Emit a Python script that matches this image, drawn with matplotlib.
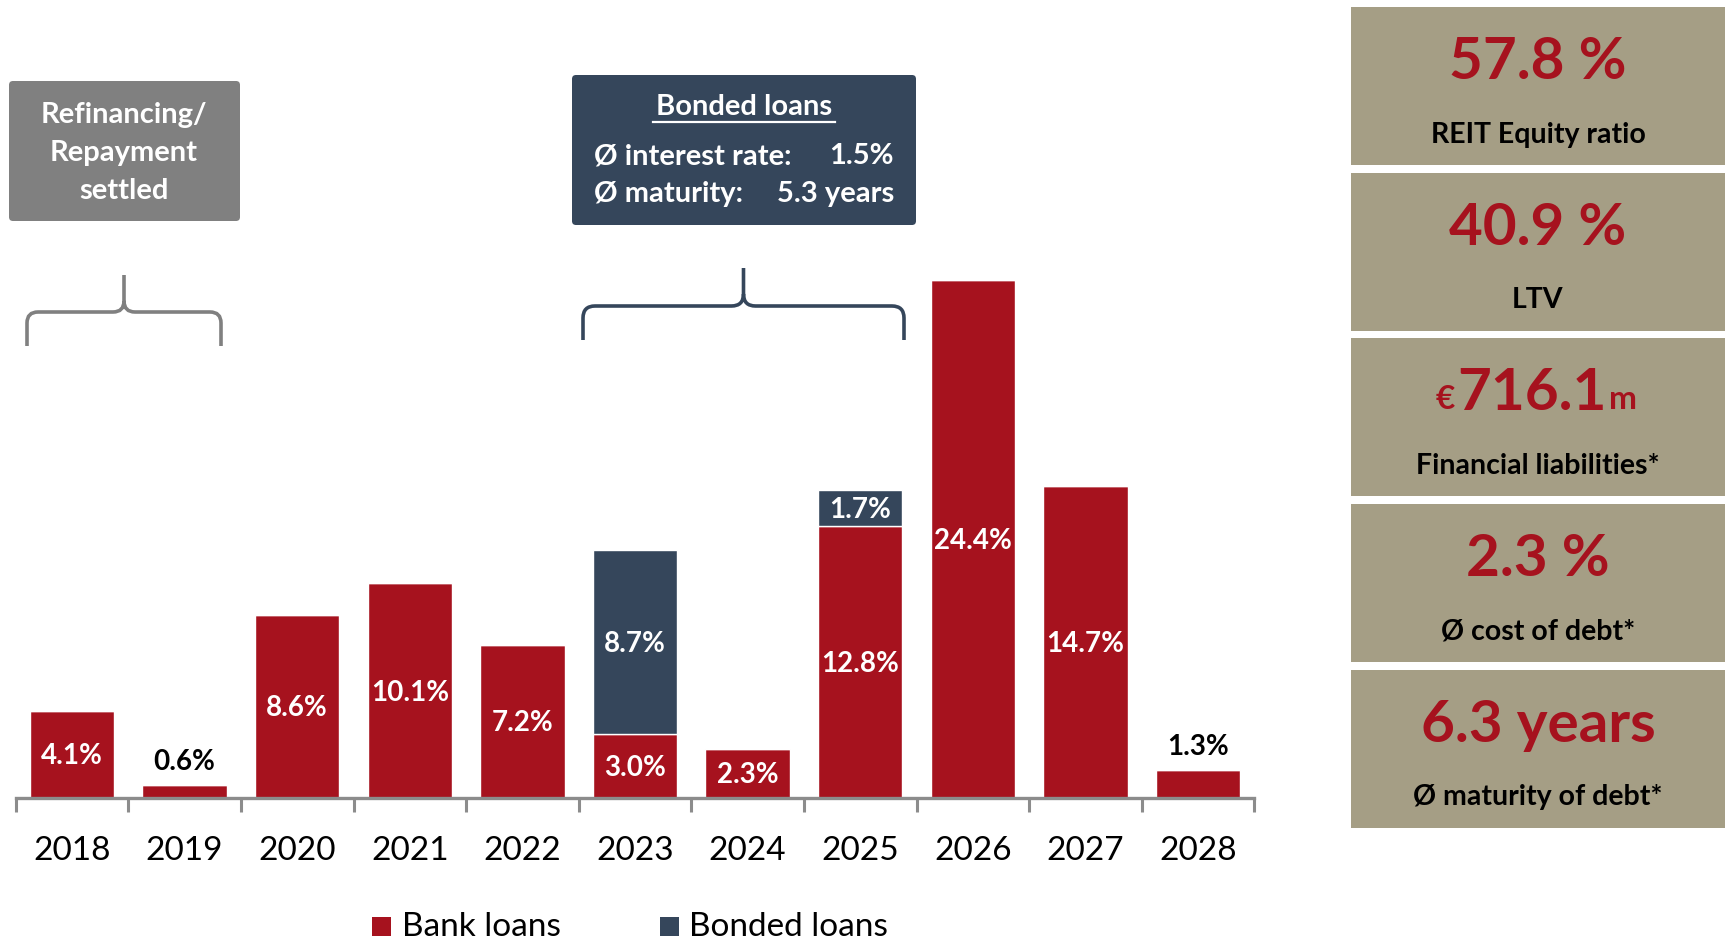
import numpy as np
import matplotlib.pyplot as plt
from matplotlib.patches import FancyBboxPatch, Rectangle, PathPatch
from matplotlib.path import Path

# maturity profile, share of financial liabilities in %
years = ['2018', '2019', '2020', '2021', '2022', '2023', '2024', '2025', '2026', '2027', '2028']
bank_loans = [4.1, 0.6, 8.6, 10.1, 7.2, 3.0, 2.3, 12.8, 24.4, 14.7, 1.3]
bonded_loans = [0, 0, 0, 0, 0, 8.7, 0, 1.7, 0, 0, 0]

# key figures on the right
kpi_values = ['57.8 %', '40.9 %', '716.1', '2.3 %', '6.3 years']
kpi_prefix = ['', '', '€', '', '']
kpi_suffix = ['', '', 'm', '', '']
kpi_labels = ['REIT Equity ratio', 'LTV', 'Financial liabilities*',
              'Ø cost of debt*', 'Ø maturity of debt*']

RED = '#A6121E'
NAVY = '#35465B'
GREY = '#808080'
AXIS_GREY = '#8C8C8C'
PANEL = '#A59E85'
FONT = ['Lato', 'DejaVu Sans']

plt.rcParams['font.family'] = FONT

W, H = 1725, 948
fig = plt.figure(figsize=(W / 100, H / 100), dpi=100)

# overlay in pixel units (y pointing down) for boxes, braces, panels, legend
ov = fig.add_axes([0, 0, 1, 1], zorder=0)
ov.set_xlim(0, W)
ov.set_ylim(H, 0)
ov.axis('off')

# bar chart
x0_px, x1_px, base_px = 15.7, 1254.3, 797.5
px_per_pct = 21.19
ax = fig.add_axes([x0_px / W, (H - base_px) / H, (x1_px - x0_px) / W, base_px / H], zorder=1)
ax.patch.set_alpha(0)

x = np.arange(len(years))
bw = 0.75
b1 = ax.bar(x, bank_loans, bw, color=RED, edgecolor='white', linewidth=1)
b2 = ax.bar(x, bonded_loans, bw, bottom=bank_loans, color=NAVY, edgecolor='white', linewidth=1)

ax.set_xlim(-0.5, len(years) - 0.5)
ax.set_ylim(0, base_px / px_per_pct)
for s in ['top', 'right', 'left']:
    ax.spines[s].set_visible(False)
ax.spines['bottom'].set_color(AXIS_GREY)
ax.spines['bottom'].set_linewidth(2.4)
ax.set_yticks([])
ax.set_xticks(x)
ax.set_xticklabels([])
ax.tick_params(axis='x', which='major', length=0)
ax.set_xticks(np.arange(-0.5, len(years)), minor=True)
ax.tick_params(axis='x', which='minor', length=10, width=2.2, color=AXIS_GREY, direction='out')

for i, yr in enumerate(years):
    ax.annotate(yr, xy=(i, 0), xycoords=('data', 'axes fraction'),
                xytext=(0, -38.5), textcoords='offset points',
                ha='center', va='center', fontsize=24, color='black')

# value labels
lab_kw = dict(ha='center', va='center', fontsize=20, fontweight='bold')
for i in range(len(years)):
    v = bank_loans[i]
    if v >= 2:
        ax.annotate(f'{v:.1f}%', xy=(i, v / 2), xytext=(0, -1.5), textcoords='offset points',
                    color='white', **lab_kw)
    else:
        ax.annotate(f'{v:.1f}%', xy=(i, v), xytext=(0, 16.5), textcoords='offset points',
                    color='black', **lab_kw)
    b = bonded_loans[i]
    if b > 0:
        ax.annotate(f'{b:.1f}%', xy=(i, v + b / 2), xytext=(0, -1.5), textcoords='offset points',
                    color='white', **lab_kw)


def brace(x_left, x_right, y_end, y_mid, y_tip, r, color):
    xc = (x_left + x_right) / 2
    verts = [(x_left, y_end), (x_left, y_mid + r), (x_left, y_mid), (x_left + r, y_mid),
             (xc - r, y_mid), (xc, y_mid), (xc, y_mid - r), (xc, y_tip),
             (xc, y_mid - r), (xc, y_mid), (xc + r, y_mid),
             (x_right - r, y_mid), (x_right, y_mid), (x_right, y_mid + r), (x_right, y_end)]
    codes = [Path.MOVETO, Path.LINETO, Path.CURVE3, Path.CURVE3,
             Path.LINETO, Path.CURVE3, Path.CURVE3, Path.LINETO,
             Path.MOVETO, Path.CURVE3, Path.CURVE3,
             Path.LINETO, Path.CURVE3, Path.CURVE3, Path.LINETO]
    ov.add_patch(PathPatch(Path(verts, codes), fill=False, edgecolor=color,
                           linewidth=2.6, capstyle='butt', joinstyle='round'))


box_kw = dict(va='center', fontsize=21, fontweight='bold', color='white')

# left annotation
ov.add_patch(FancyBboxPatch((9, 81), 231, 140, boxstyle='round,pad=0,rounding_size=4',
                            facecolor=GREY, edgecolor='none'))
for txt, yy in zip(['Refinancing/', 'Repayment', 'settled'], [115, 153, 191]):
    ov.text(124, yy, txt, ha='center', **box_kw)
brace(27, 221, 346, 312, 275, 11, GREY)

# bonded loans annotation
ov.add_patch(FancyBboxPatch((572, 75), 344, 150, boxstyle='round,pad=0,rounding_size=4',
                            facecolor=NAVY, edgecolor='none'))
ov.text(744, 107, 'Bonded loans', ha='center', **box_kw)
ov.plot([653, 835], [122, 122], color='white', linewidth=1.6)
ov.text(594, 156, 'Ø interest rate:', ha='left', **box_kw)
ov.text(894, 156, '1.5%', ha='right', **box_kw)
ov.text(594, 194, 'Ø maturity:', ha='left', **box_kw)
ov.text(894, 194, '5.3 years', ha='right', **box_kw)
brace(583, 904, 340, 306, 268, 12, NAVY)

# key figure panels
panel_top = [6.5, 172.5, 337.5, 503.5, 669.5]
panel_h = 158
px0, px1 = 1351, W
cx = (px0 + px1) / 2
for top, val, pre, suf, lab in zip(panel_top, kpi_values, kpi_prefix, kpi_suffix, kpi_labels):
    ov.add_patch(Rectangle((px0, top), px1 - px0, panel_h, facecolor=PANEL, edgecolor='none'))
    main = ov.text(cx - (6 if pre else 0), top + 56, val, ha='center', va='center',
                   fontsize=42, fontweight='bold', color=RED)
    if pre:
        ov.annotate(pre, xy=(0, 0.12), xycoords=main, xytext=(-2, 0), textcoords='offset points',
                    ha='right', va='bottom', fontsize=24, fontweight='bold', color=RED)
    if suf:
        ov.annotate(suf, xy=(1, 0.12), xycoords=main, xytext=(2, 0), textcoords='offset points',
                    ha='left', va='bottom', fontsize=24, fontweight='bold', color=RED)
    ov.text(cx, top + 128, lab, ha='center', va='center', fontsize=20.5,
            fontweight='bold', color='black')

# legend
for sx, tx, col, name in [(372, 402, RED, 'Bank loans'), (660, 689, NAVY, 'Bonded loans')]:
    ov.add_patch(Rectangle((sx, 917), 19, 19, facecolor=col, edgecolor='none'))
    ov.text(tx, 927, name, ha='left', va='center', fontsize=24, color='black')

fig.savefig('out.png', dpi=100)
